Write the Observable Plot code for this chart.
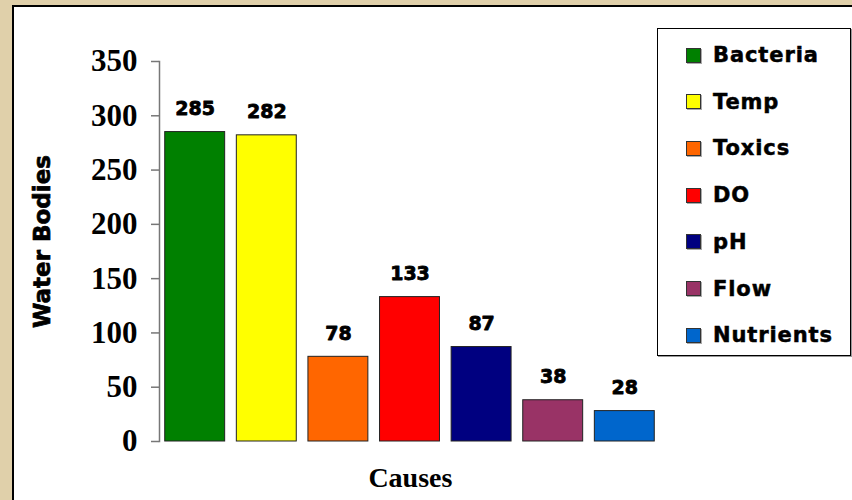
<!DOCTYPE html>
<html>
<head>
<meta charset="utf-8">
<script src="https://cdn.jsdelivr.net/npm/d3@7"></script>
<script src="https://cdn.jsdelivr.net/npm/@observablehq/plot@0.6"></script>
<style>
  html, body { margin: 0; padding: 0; }
  body { width: 852px; height: 500px; background: #E0D0AA; position: relative; overflow: hidden; }
  #panel { position: absolute; left: 12px; top: 5px; width: 860px; height: 520px; background: #fff;
           border-left: 2px solid #000; border-top: 2px solid #000; }
  #chart { position: absolute; left: 0; top: 0; }
  #legend { position: absolute; left: 657px; top: 28px; width: 194px; height: 328px; background: #fff;
            border: 1px solid #000; box-shadow: 1px 1px 0 #999; box-sizing: border-box; }
  .item { position: absolute; left: 28px; height: 24px; display: flex; align-items: center;
          font-family: "DejaVu Sans", sans-serif; font-weight: bold; font-size: 21px; color: #000;
          letter-spacing: 0.9px; -webkit-text-stroke: 0.5px #000; }
  .sw { width: 13px; height: 13px; border: 1px solid #333; margin-right: 12px; box-shadow: 1px 1px 0 #aaa; }
</style>
</head>
<body>
<div id="panel"></div>
<div id="chart"></div>
<div id="legend"></div>
<script>
const causes = ["Bacteria", "Temp", "Toxics", "DO", "pH", "Flow", "Nutrients"];
const values = [285, 282, 78, 133, 87, 38, 28];
const colors = ["#008000", "#FFFF00", "#FF6600", "#FF0000", "#000080", "#993366", "#0066CC"];
const yTicks = [0, 50, 100, 150, 200, 250, 300, 350];

const data = causes.map((c, i) => ({cause: c, value: values[i]}));

const chart = Plot.plot({
  width: 852,
  height: 500,
  marginLeft: 159,
  marginRight: 192,
  marginTop: 61,
  marginBottom: 59,
  style: {background: "transparent", overflow: "visible"},
  x: {domain: causes, paddingInner: 0.163, paddingOuter: 0.08, round: false, axis: null},
  y: {domain: [0, 350], ticks: yTicks, axis: null},
  color: {domain: causes, range: colors},
  marks: [
    Plot.frame({anchor: "left", stroke: "#777", strokeWidth: 1.5}),
    Plot.axisY({
      ticks: yTicks, tickSize: 8, tickPadding: 14, stroke: "#777", strokeWidth: 1.5,
      fontFamily: "Liberation Serif", fontWeight: "bold", fontSize: 31, fill: "#000",
      label: null
    }),
    Plot.barY(data, {x: "cause", y: "value", fill: "cause", stroke: "#222", strokeWidth: 1}),
    Plot.text(data, {
      x: "cause", y: "value", text: d => String(d.value), lineAnchor: "bottom", dy: -17,
      fontFamily: "DejaVu Sans", fontWeight: "bold", fontSize: 19, fill: "#000",
      stroke: "#000", strokeWidth: 0.8
    }),
    Plot.text(["Water Bodies"], {
      frameAnchor: "left", textAnchor: "middle", dx: -117, dy: -10, rotate: -90, text: d => d,
      fontFamily: "DejaVu Sans", fontWeight: "bold", fontSize: 23, fill: "#000",
      stroke: "#000", strokeWidth: 0.7
    }),
    Plot.text(["Causes"], {
      x: () => "Toxics", dx: 72, frameAnchor: "bottom", dy: 45, text: d => d,
      fontFamily: "Liberation Serif", fontWeight: "bold", fontSize: 28, fill: "#000"
    })
  ]
});
document.getElementById("chart").appendChild(chart);

const legend = document.getElementById("legend");
const rowCenters0 = 26, rowStep = 46.7;
causes.forEach((c, i) => {
  const item = document.createElement("div");
  item.className = "item";
  item.style.top = (rowCenters0 + i * rowStep - 12) + "px";
  const sw = document.createElement("div");
  sw.className = "sw";
  sw.style.background = colors[i];
  const t = document.createElement("span");
  t.textContent = c;
  item.appendChild(sw);
  item.appendChild(t);
  legend.appendChild(item);
});
</script>
</body>
</html>
